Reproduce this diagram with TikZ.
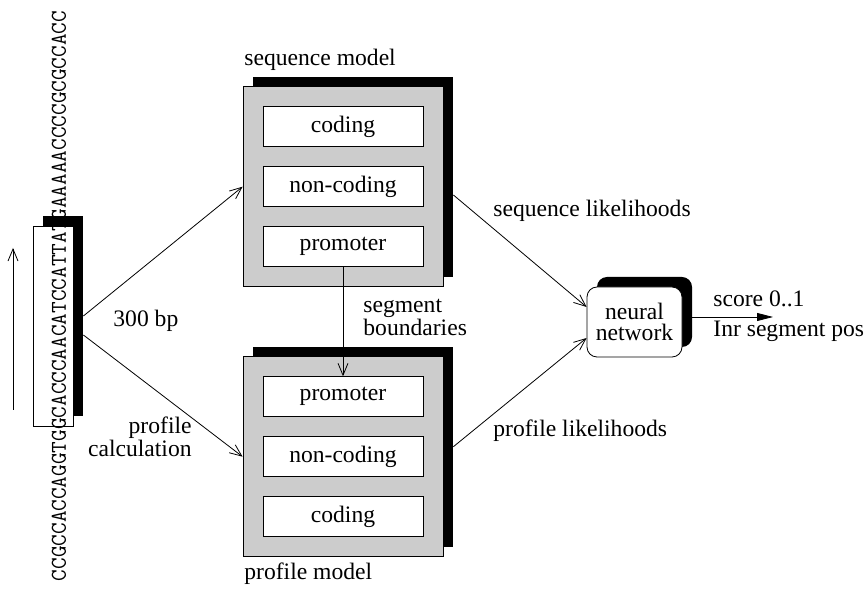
\documentclass[tikz,border=0pt]{standalone}
\usepackage{fontspec}
\setmainfont{Liberation Serif}
\usetikzlibrary{calc}
\usetikzlibrary{arrows.meta}
\newcommand{\lblfont}{\fontsize{11.8}{10.5}\selectfont}
\newcommand{\seqfont}{\fontsize{11.3}{12}\selectfont\ttfamily}

\begin{document}
\begin{tikzpicture}[x=0.5pt, y=-0.5pt,
        every node/.style={font=\lblfont, inner sep=0pt},
        backing/.style={fill=black},
        modelbox/.style={draw, fill=gray!40, minimum width=100pt, minimum height=100pt},
        statebox/.style={draw, fill=white, minimum width=80pt, minimum height=20pt},
        barb/.style={-{Straight Barb[length=6pt,width=5pt]}}]
        \useasboundingbox (0,0) rectangle (868,592);

        %dna window
        \node[backing, minimum width=20pt, minimum height=100pt] (dnaback) at (63,316) {};
        \node[draw, fill=white, minimum width=20pt, minimum height=100pt] (dna) at (53,326) {};
        \node[rotate=90, font=\seqfont] (dnaseq) at (59,296) {CCGCCACCAGGTGGCACCCAACATCCATTATGAAAAACCCCGCGCCACC};
        \coordinate (dirlow) at (13,410);
        \coordinate (dirhigh) at (13,248);
        \draw[barb] (dirlow) -- (dirhigh);

        %sequence model
        \node[backing, minimum width=100pt, minimum height=100pt] (seqback) at (353,176.7) {};
        \node[modelbox] (seq) at (343,186.7) {};
        \node[statebox] (seqcod) at (343,126.7) {coding};
        \node[statebox] (seqnon) at (343,186.7) {non-coding};
        \node[statebox] (seqpro) at (343,246.7) {promoter};
        \node[anchor=base west] (seqlbl) at (244,66) {sequence model};

        %profile model
        \node[backing, minimum width=100pt, minimum height=100pt] (profback) at (353,446.7) {};
        \node[modelbox] (prof) at (343,456.7) {};
        \node[statebox] (profpro) at (343,396.7) {promoter};
        \node[statebox] (profnon) at (343,456.7) {non-coding};
        \node[statebox] (profcod) at (343,516.7) {coding};
        \node[anchor=base west] (proflbl) at (244,580) {profile model};

        %neural network
        \node[backing, rounded corners=5pt, minimum width=47.5pt, minimum height=35pt] (netback) at (644.5,312) {};
        \node[draw, fill=white, rounded corners=5pt, minimum width=47.5pt, minimum height=35pt, align=center] (net) at (634.5,322) {neural\\network};
        \coordinate (score) at (773,317);

        %connectors
        \draw[barb] (dnaback.east) -- (seq.west);
        \draw[barb] ($(dnaback.east)+(0,19)$) -- (prof.west);
        \draw[barb] (seqpro.south) -- (profpro.north);
        \draw[barb] ($(seqback.east)+(0,18.3)$) -- ($(net.west)+(0,-15)$);
        \draw[barb] (profback.east) -- ($(net.west)+(0,16)$);
        \draw[-{Triangle[length=8pt,width=4pt]}] ($(netback.east)+(0,5)$) -- (score);

        %labels (base = last line)
        \node[anchor=base west] (bplbl) at (113,327) {300 bp};
        \node[anchor=base east, align=right] (calclbl) at (192,457) {profile\\calculation};
        \node[anchor=base west, align=left] (bndlbl) at (363,336) {segment\\boundaries};
        \node[anchor=base west] (seqlik) at (493,217) {sequence likelihoods};
        \node[anchor=base west] (proflik) at (493,437) {profile likelihoods};
        \node[anchor=base west] (scorelbl) at (713,307) {score 0..1};
        \node[anchor=base west] (poslbl) at (713,337) {Inr segment pos};
    \end{tikzpicture}
\end{document}
